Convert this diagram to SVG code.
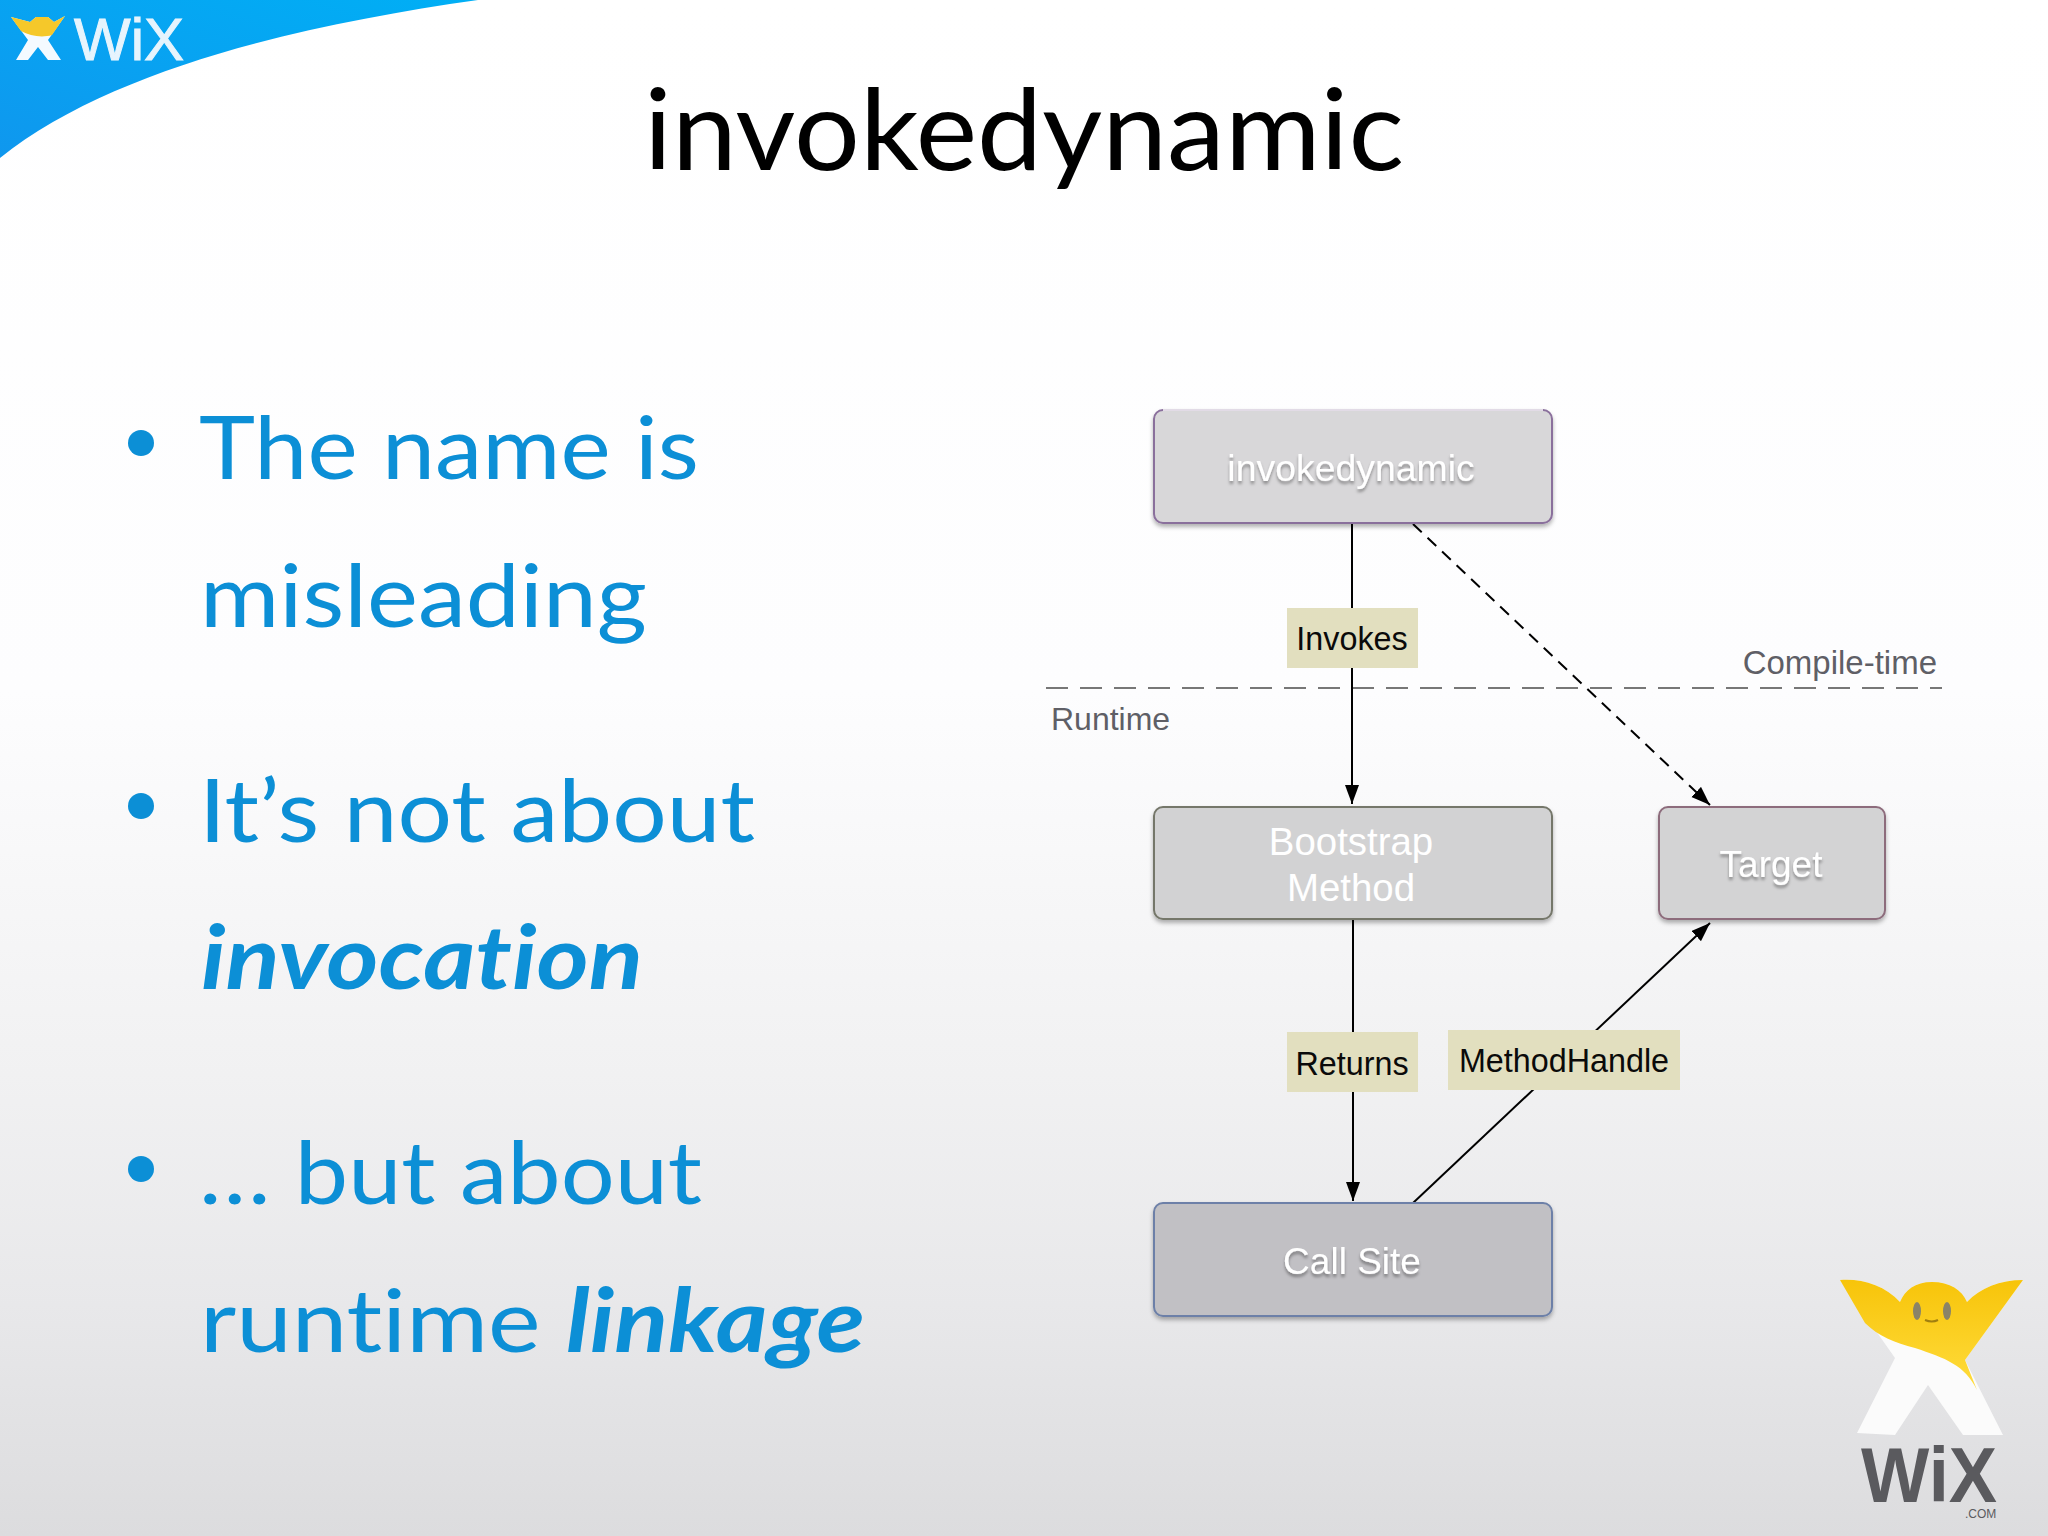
<svg xmlns="http://www.w3.org/2000/svg" width="2048" height="1536" viewBox="0 0 2048 1536">
<defs>
<linearGradient id="bg" x1="0" y1="0" x2="0" y2="1"><stop offset="0" stop-color="#fff"/><stop offset="0.45" stop-color="#fdfdfe"/><stop offset="0.7" stop-color="#f1f1f2"/><stop offset="0.85" stop-color="#e8e8ea"/><stop offset="1" stop-color="#dcdcde"/></linearGradient>
<linearGradient id="swoosh" x1="0" y1="1" x2="1" y2="0"><stop offset="0" stop-color="#0f97ee"/><stop offset="1" stop-color="#00aff5"/></linearGradient>
<linearGradient id="yel" x1="0" y1="0" x2="0" y2="1"><stop offset="0" stop-color="#f7c40a"/><stop offset="1" stop-color="#ffdc3c"/></linearGradient>
<filter id="ns" x="-5%" y="-5%" width="110%" height="115%"><feDropShadow dx="0" dy="3" stdDeviation="2" flood-color="#000" flood-opacity="0.3"/></filter>
<filter id="ts" x="-10%" y="-20%" width="120%" height="150%"><feDropShadow dx="0" dy="3" stdDeviation="1.5" flood-color="#000" flood-opacity="0.35"/></filter>
<marker id="arr" markerUnits="userSpaceOnUse" markerWidth="20" markerHeight="16" refX="19" refY="7" orient="auto"><path d="M0 0L19 7L0 14Z" fill="#000"/></marker>
<style>
.body{font-family:"Lato","Liberation Sans",sans-serif;font-size:88px;fill:#0c8fd6;font-variant-ligatures:none}
.bi{font-weight:700;font-style:italic}
.nt{font-family:"Liberation Sans",Arial,sans-serif;font-size:37px;fill:#fff;text-anchor:middle}
.lg{font-size:38.4px}
.lb{font-family:"Liberation Sans",Arial,sans-serif;font-size:32.3px;fill:#0a0a0a;text-anchor:middle}
.gt{font-family:"Liberation Sans",Arial,sans-serif;font-size:32px;fill:#5f5f66}
.lab{fill:#e2dfbf}
.cn{stroke:#000;stroke-width:2;fill:none}
.hl{stroke:#fff;stroke-width:2;stroke-opacity:.75}
</style>
</defs>
<rect width="2048" height="1536" fill="url(#bg)"/>
<path id="swoosh-shape" d="M0 0H478C300 25 110 70 0 158Z" fill="url(#swoosh)"/>
<g id="logo-top">
<path d="M11 17L30 22L36 17L48 17L54 22L65 16L48 40L61 60L48 60L38 47L28 60L16 60L28 40Z" fill="#f4faff"/>
<path d="M11 17L30 22L36 17L48 17L54 22L65 16L52 35C42 38 30 36 21 31Z" fill="#f5c82a"/>
<text x="74" y="60" font-family="Liberation Sans,Arial,sans-serif" font-size="60" fill="#e6f4fd" stroke="#e6f4fd" stroke-width="1" textLength="110" lengthAdjust="spacingAndGlyphs">WiX</text>
</g>
<text id="title" x="644" y="170" font-family="Lato,Liberation Sans,sans-serif" font-size="112" fill="#000" textLength="760" lengthAdjust="spacingAndGlyphs">invokedynamic</text>
<g id="bullets">
<circle cx="141" cy="443" r="13" fill="#0c8fd6"/><circle cx="141" cy="806" r="13" fill="#0c8fd6"/><circle cx="141" cy="1169" r="13" fill="#0c8fd6"/>
<text class="body" x="199" y="479" textLength="500" lengthAdjust="spacingAndGlyphs">The name is</text>
<text class="body" x="200" y="627" textLength="447" lengthAdjust="spacingAndGlyphs">misleading</text>
<text class="body" x="199" y="842" textLength="556" lengthAdjust="spacingAndGlyphs">It’s not about</text>
<text class="body bi" x="201" y="989" textLength="442" lengthAdjust="spacingAndGlyphs">invocation</text>
<text class="body" x="199" y="1204" textLength="503" lengthAdjust="spacingAndGlyphs">… but about</text>
<text class="body" x="200" y="1352" textLength="665" lengthAdjust="spacingAndGlyphs">runtime <tspan class="bi">linkage</tspan></text>
</g>
<line id="divider" x1="1046" y1="688" x2="1942" y2="688" stroke="#777" stroke-width="2" stroke-dasharray="22 12"/>
<text class="gt" x="1051" y="730">Runtime</text>
<text class="gt" x="1937" y="674" text-anchor="end" style="font-size:33px">Compile-time</text>
<g id="connectors">
<line class="cn" x1="1352" y1="524" x2="1352" y2="804" marker-end="url(#arr)"/>
<line class="cn" x1="1413" y1="524" x2="1710" y2="805" stroke-dasharray="12 8" marker-end="url(#arr)"/>
<line class="cn" x1="1353" y1="919" x2="1353" y2="1201" marker-end="url(#arr)"/>
<line class="cn" x1="1413" y1="1203" x2="1710" y2="923" marker-end="url(#arr)"/>
</g>
<g id="node-invokedynamic">
<rect x="1154" y="410" width="398" height="113" rx="9" fill="#d8d7d9" stroke="#8a6f9c" stroke-width="2" filter="url(#ns)"/>
<line class="hl" x1="1163" y1="410" x2="1543" y2="410"/>
<text class="nt" x="1351" y="481" style="font-size:37.4px" filter="url(#ts)">invokedynamic</text>
</g>
<g id="node-bootstrap">
<rect x="1154" y="807" width="398" height="112" rx="9" fill="#d2d2d3" stroke="#75776a" stroke-width="2" filter="url(#ns)"/>
<text class="nt lg" x="1351" y="855">Bootstrap</text>
<text class="nt lg" x="1351" y="901">Method</text>
</g>
<g id="node-target">
<rect x="1659" y="807" width="226" height="112" rx="9" fill="#d3d3d4" stroke="#8d6c7c" stroke-width="2" filter="url(#ns)"/>
<text class="nt" x="1771" y="877" filter="url(#ts)">Target</text>
</g>
<g id="node-callsite">
<rect x="1154" y="1203" width="398" height="113" rx="9" fill="#c1c0c4" stroke="#6d80a8" stroke-width="2" filter="url(#ns)"/>
<text class="nt" x="1352" y="1274" filter="url(#ts)">Call Site</text>
</g>
<g id="label-invokes"><rect class="lab" x="1287" y="608" width="131" height="60"/><text class="lb" x="1352" y="650">Invokes</text></g>
<g id="label-returns"><rect class="lab" x="1287" y="1032" width="131" height="60"/><text class="lb" x="1352" y="1075">Returns</text></g>
<g id="label-methodhandle"><rect class="lab" x="1448" y="1030" width="232" height="60"/><text class="lb" x="1564" y="1072">MethodHandle</text></g>
<g id="logo-bottom">
<path d="M1840 1280C1860 1278 1885 1285 1900 1302C1905 1290 1915 1282 1932 1282C1950 1282 1962 1290 1967 1302C1980 1288 2000 1280 2023 1280L1965 1360L2003 1435L1963 1435L1928 1385L1895 1435L1857 1433L1895 1358Z" fill="#fbfbfb"/>
<path d="M1840 1280C1860 1278 1885 1285 1900 1302C1905 1290 1915 1282 1932 1282C1950 1282 1962 1290 1967 1302C1980 1288 2000 1280 2023 1280L1965 1360L1977 1390C1965 1365 1945 1358 1915 1348C1895 1343 1878 1336 1865 1323Z" fill="url(#yel)"/>
<ellipse cx="1917" cy="1311" rx="4" ry="9" fill="#8a8468"/><ellipse cx="1947" cy="1311" rx="4" ry="9" fill="#8a8468"/>
<path d="M1925 1320Q1932 1323 1938 1320" stroke="#a07f10" stroke-width="2" fill="none"/>
<text x="1861" y="1502" font-family="Liberation Sans,Arial,sans-serif" font-size="78" font-weight="700" fill="#5a5a5e" textLength="136" lengthAdjust="spacingAndGlyphs">WiX</text>
<text x="1965" y="1518" font-family="Liberation Sans,Arial,sans-serif" font-size="12" fill="#5a5a5e">.COM</text>
</g>
</svg>
